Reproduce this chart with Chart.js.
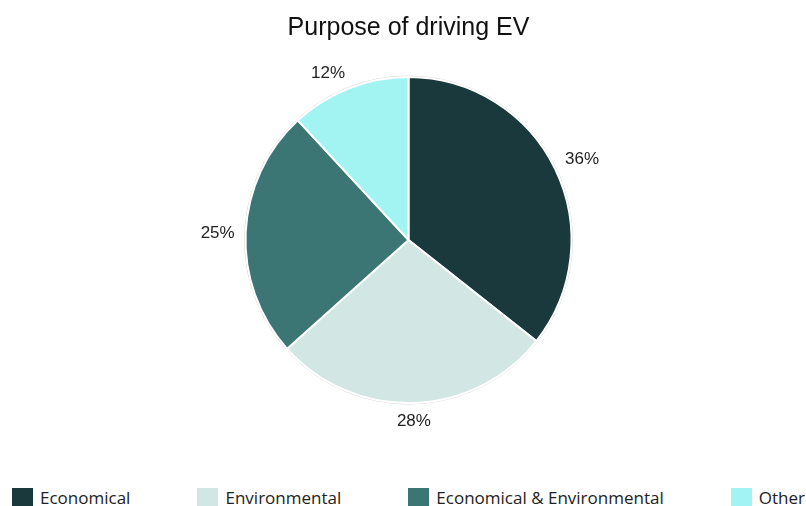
<!DOCTYPE html>
<html>
<head>
<meta charset="utf-8">
<script src="https://cdn.jsdelivr.net/npm/chart.js@4/dist/chart.umd.min.js"></script>
<style>
    html, body { margin: 0; padding: 0; background: #fff; }
    #wrap { width: 806px; height: 506px; position: relative; overflow: hidden; }
    #chartBox { width: 806px; height: 470px; position: relative; }
    #legend {
        position: absolute; left: 12px; right: 1px; top: 486px;
        display: flex; justify-content: space-between;
        font-family: "Open Sans", sans-serif; font-size: 17px; color: #222;
    }
    #legend .item { display: flex; align-items: center; white-space: nowrap; }
    #legend .box { width: 21px; height: 20px; margin-right: 7px; }
</style>
</head>
<body>
<div id="wrap">
    <div id="chartBox"><canvas id="purposeChart"></canvas></div>
    <div id="legend"></div>
</div>
<script>
const labels = ['Economical', 'Environmental', 'Economical & Environmental', 'Other'];
const shares = [36, 28, 25, 12];
const colors = ['#19393c', '#d2e6e3', '#3b7574', '#a2f4f2'];

// percentage labels: anchored just past the rim, text grows away from the pie
const outsideLabels = {
    id: 'outsideLabels',
    afterDatasetsDraw(chart) {
        const ctx = chart.ctx;
        const meta = chart.getDatasetMeta(0);
        const fontSize = 17;
        const ascent = fontSize * 0.716;
        ctx.save();
        ctx.font = fontSize + 'px "Liberation Sans", Arial, sans-serif';
        ctx.fillStyle = '#222';
        ctx.textBaseline = 'alphabetic';
        meta.data.forEach((arc, i) => {
            const p = arc.getProps(['x', 'y', 'startAngle', 'endAngle', 'outerRadius'], true);
            const mid = (p.startAngle + p.endAngle) / 2;
            const dx = Math.cos(mid), dy = Math.sin(mid);
            const r = p.outerRadius + 11;
            const x = p.x + dx * r;
            const y = p.y + dy * r;
            ctx.textAlign = dx > 0.1 ? 'left' : (dx < -0.1 ? 'right' : 'center');
            let base;
            if (dy > 0.1) base = y + ascent;
            else if (dy < -0.1) base = y;
            else base = y + ascent / 2;
            ctx.fillText(shares[i] + '%', x, base);
        });
        ctx.restore();
    }
};

// faint grey rim around the pie
const rim = {
    id: 'rim',
    beforeDatasetsDraw(chart) {
        const arc = chart.getDatasetMeta(0).data[0];
        if (!arc) return;
        const ctx = chart.ctx;
        ctx.save();
        ctx.beginPath();
        ctx.arc(arc.x, arc.y, arc.outerRadius + 1, 0, Math.PI * 2);
        ctx.strokeStyle = '#d8d8d8';
        ctx.lineWidth = 1;
        ctx.stroke();
        ctx.restore();
    }
};

const ctx = document.getElementById('purposeChart').getContext('2d');
new Chart(ctx, {
    type: 'pie',
    data: {
        labels: labels,
        datasets: [{
            data: shares,
            backgroundColor: colors,
            borderColor: '#fff',
            borderWidth: 2
        }]
    },
    options: {
        responsive: true,
        maintainAspectRatio: false,
        animation: false,
        layout: { padding: { top: 0, bottom: 66, left: 11, right: 0 } },
        plugins: {
            legend: { display: false },
            tooltip: { enabled: false },
            title: {
                display: true,
                text: 'Purpose of driving EV',
                color: '#111',
                font: { family: '"Liberation Sans", Arial, sans-serif', size: 25, weight: 'normal' },
                padding: { top: 13, bottom: 33 }
            }
        }
    },
    plugins: [rim, outsideLabels]
});

const legend = document.getElementById('legend');
labels.forEach((name, i) => {
    const item = document.createElement('div');
    item.className = 'item';
    const box = document.createElement('span');
    box.className = 'box';
    box.style.background = colors[i];
    const txt = document.createElement('span');
    txt.textContent = name;
    item.appendChild(box);
    item.appendChild(txt);
    legend.appendChild(item);
});
</script>
</body>
</html>
